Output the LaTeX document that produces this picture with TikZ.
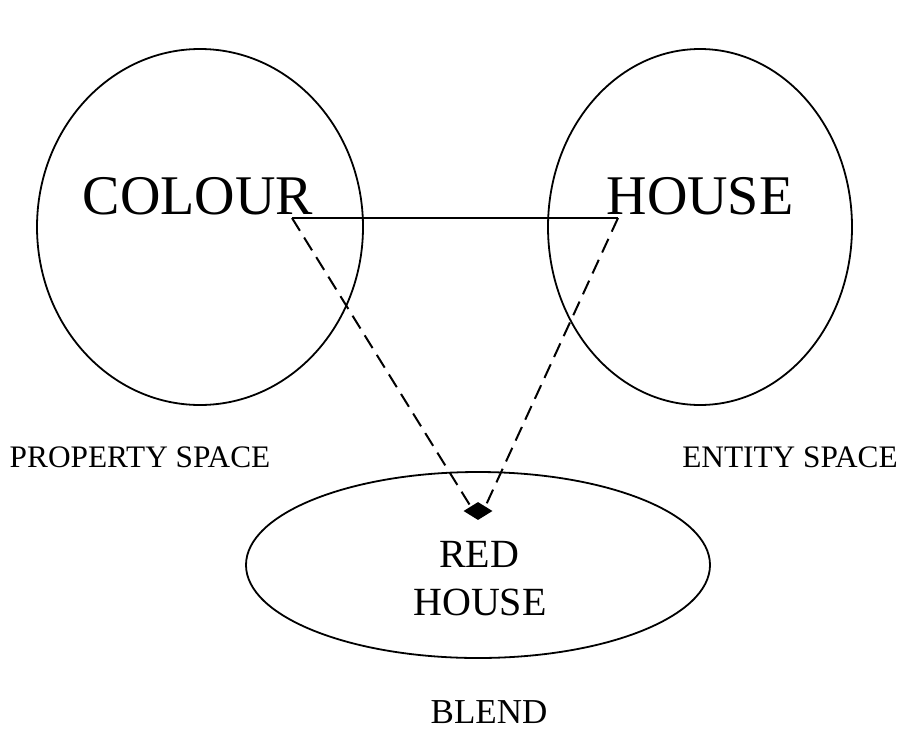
\documentclass[tikz,border=0pt]{standalone}
\usepackage{fontspec}
\setmainfont{Liberation Serif}
\usetikzlibrary{shapes.geometric}
\begin{document}
\begin{tikzpicture}[x=1pt,y=-1pt,
  space/.style={draw,line width=1.8pt,ellipse,inner sep=0pt},
  bigtext/.style={font=\fontsize{56}{60}\selectfont,inner sep=0pt,anchor=base},
  lab/.style={font=\fontsize{31.3}{34}\selectfont,inner sep=0pt,anchor=base},
  mid/.style={font=\fontsize{40}{48}\selectfont,inner sep=0pt,anchor=base},
  link/.style={line width=1.8pt},
  dlink/.style={line width=2pt,dash pattern=on 15pt off 8pt}]
\useasboundingbox (0,0) rectangle (901,731);
\node[space,minimum width=326pt,minimum height=356pt] (prop) at (200,227) {};
\node[space,minimum width=304pt,minimum height=356pt] (ent) at (700,227) {};
\node[space,minimum width=464pt,minimum height=186pt] (blend) at (478,565) {};
\node[bigtext] (colour) at (198,214) {COLOUR};
\node[bigtext] (house) at (700,214) {HOUSE};
\coordinate (cl) at (292,218);
\coordinate (cr) at (618,218);
\node[diamond,fill=black,minimum width=29pt,minimum height=18pt,inner sep=0pt] (dia) at (478,511) {};
\draw[link] (cl) -- (cr);
\draw[dlink] (cl) -- (dia.north west);
\draw[dlink] (cr) -- (dia.north east);
\node[mid] (red) at (479,567) {RED};
\node[mid] (rh) at (480,615) {HOUSE};
\node[lab] (pl) at (140,467) {PROPERTY SPACE};
\node[lab] (el) at (790,467) {ENTITY SPACE};
\node[lab,font=\fontsize{35}{40}\selectfont] (bl) at (489,723) {BLEND};
\end{tikzpicture}
\end{document}
